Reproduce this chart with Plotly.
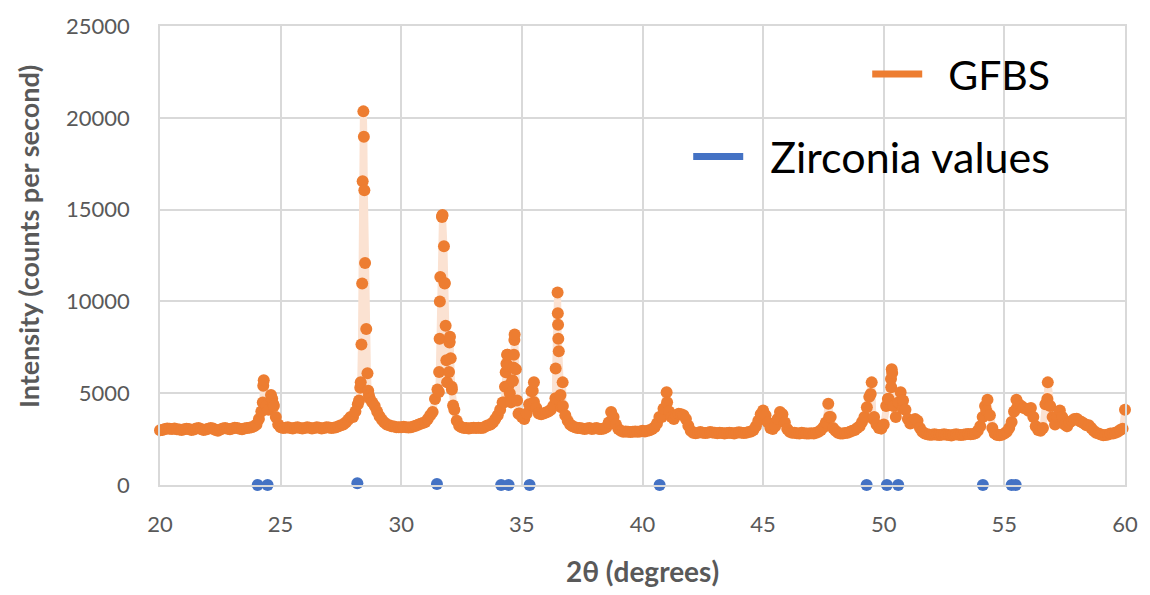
import numpy as np
import plotly.graph_objects as go

# ---- GFBS scan: readings on a 0.1 deg grid (20.0 .. 60.0) ----
scan_start, scan_step = 20.0, 0.1
gfbs_20_25 = [2980, 3000, 3050, 3080, 3060, 3050, 3080, 3040, 3020, 3000,
              3030, 3060, 3050, 3000, 3020, 3080, 3100, 3050, 3000, 3020,
              3060, 3100, 3080, 3000, 2960, 3020, 3080, 3100, 3060, 3040,
              3080, 3120, 3100, 3060, 3040, 3080, 3100, 3120, 3150, 3200,
              3300, 3600, 4000, 5700, 4300, 4100, 4900, 4400, 3700, 3300]
gfbs_25_30 = [3150, 3100, 3120, 3150, 3100, 3080, 3120, 3150, 3100, 3080,
              3100, 3150, 3120, 3080, 3100, 3150, 3120, 3080, 3100, 3150,
              3130, 3100, 3120, 3150, 3200, 3250, 3300, 3400, 3550, 3700,
              3700, 4000, 4400, 5300, 16540, 12090, 6090, 4700, 4500, 4300,
              4000, 3750, 3550, 3400, 3300, 3250, 3200, 3180, 3150, 3150]
gfbs_30_35 = [3150, 3170, 3150, 3130, 3150, 3180, 3230, 3280, 3330, 3380,
              3430, 3600, 3800, 3970, 4690, 5200, 10000, 14650, 11000, 5600,
              7800, 5200, 4100, 3500, 3230, 3150, 3100, 3100, 3080, 3100,
              3120, 3100, 3120, 3100, 3120, 3200, 3250, 3300, 3400, 3600,
              3800, 4100, 4500, 5350, 7100, 5000, 5700, 8200, 4600, 3900]
gfbs_35_40 = [3700, 3600, 3900, 4400, 5100, 5600, 4200, 3900, 3850, 3900,
              3950, 4000, 4100, 4300, 6340, 8730, 4900, 4300, 3800, 3500,
              3300, 3200, 3150, 3100, 3100, 3080, 3050, 3080, 3100, 3050,
              3080, 3100, 3050, 3050, 3080, 3150, 3400, 3970, 3700, 3300,
              3050, 2950, 2900, 2920, 2900, 2880, 2900, 2920, 2900, 2920]
gfbs_40_45 = [2950, 2920, 2950, 2980, 3050, 3150, 3350, 3700, 3700, 4150,
              5050, 4000, 3700, 3600, 3800, 3880, 3850, 3800, 3600, 3230,
              2950, 2850, 2820, 2850, 2880, 2850, 2830, 2850, 2880, 2860,
              2840, 2820, 2850, 2830, 2810, 2830, 2850, 2830, 2810, 2850,
              2870, 2850, 2830, 2850, 2880, 2920, 3000, 3200, 3500, 3850]
gfbs_45_50 = [4060, 3800, 3400, 3100, 3050, 3200, 3600, 3970, 3850, 3400,
              3050, 2900, 2850, 2850, 2820, 2800, 2850, 2820, 2800, 2800,
              2820, 2800, 2850, 2900, 3000, 3150, 3400, 4420, 3700, 3100,
              2950, 2850, 2800, 2800, 2830, 2850, 2900, 2950, 3000, 3100,
              3200, 3430, 3700, 4240, 4800, 5590, 3700, 3300, 3100, 3070]
gfbs_50_55 = [3300, 4300, 4700, 5770, 4300, 3700, 4500, 5050, 4600, 4100,
              3600, 3350, 3400, 3600, 3500, 3100, 2900, 2800, 2760, 2740,
              2740, 2760, 2740, 2720, 2740, 2760, 2740, 2720, 2700, 2740,
              2760, 2740, 2720, 2740, 2760, 2780, 2760, 2780, 2820, 2950,
              3200, 3700, 4300, 4650, 3800, 3100, 2800, 2720, 2710, 2740]
gfbs_55_60 = [2800, 2900, 3100, 3430, 4000, 4650, 4400, 4300, 4200, 4150,
              4050, 4200, 3700, 3200, 3000, 2950, 3100, 4400, 5590, 4300,
              3700, 3300, 3700, 4060, 3700, 3300, 3200, 3400, 3500, 3600,
              3610, 3500, 3430, 3350, 3250, 3250, 3100, 2950, 2850, 2800,
              2750, 2710, 2720, 2750, 2800, 2800, 2850, 2900, 3000, 3070,
              4100]

# ---- extra readings inside sharp peaks ----
peak_two_theta = [24.26, 24.28, 24.65, 24.72,
                  28.25, 28.32, 28.35, 28.38, 28.43, 28.45, 28.47, 28.55, 28.63, 28.66,
                  31.56, 31.57, 31.59, 31.62, 31.69, 31.71, 31.77, 31.80, 31.84, 31.87,
                  31.98, 32.00, 32.02, 32.05, 32.09, 32.15,
                  34.27, 34.33, 34.36, 34.39, 34.41, 34.44, 34.55, 34.63, 34.65, 34.67,
                  34.69, 34.75, 34.86,
                  35.45, 35.5,
                  36.39, 36.48, 36.49, 36.51, 36.53, 36.63, 36.69,
                  41.02, 40.87,
                  47.74,
                  49.46, 49.55,
                  50.17, 50.31, 50.33, 50.35, 50.79,
                  54.25, 55.52, 56.78]
peak_intensity = [4500, 5400, 4700, 4300,
                  4600, 5600, 7650, 10980, 20350, 18970, 16060, 8500, 5135, 4870,
                  5060, 6160, 7960, 11330, 14600, 14700, 13000, 10975, 8675, 6800,
                  6160, 7760, 8080, 6900, 5350, 4330,
                  4500, 6140, 6600, 7100, 6480, 5400, 4500, 5670, 6400, 7100,
                  7900, 6300, 3880,
                  5140, 4520,
                  4725, 10490, 9360, 7970, 7290, 4240, 5590,
                  4510, 4150,
                  3700,
                  4960, 3610,
                  4690, 5320, 6300, 6100, 4150,
                  4060, 4200, 4690]

# ---- Zirconia reference positions ----
zirconia_two_theta = [24.05, 24.46, 28.18, 31.48, 34.14, 34.45, 35.32, 40.71,
                      49.29, 50.13, 50.60, 54.11, 55.30, 55.47]
zirconia_intensity = [0, 0, 100, 60, 0, 0, 0, 0, 0, 0, 0, 0, 0, 0]

x_ticks = [20, 25, 30, 35, 40, 45, 50, 55, 60]
y_ticks = [0, 5000, 10000, 15000, 20000, 25000]

# ---- assemble ----
grid_vals = (gfbs_20_25 + gfbs_25_30 + gfbs_30_35 + gfbs_35_40 +
             gfbs_40_45 + gfbs_45_50 + gfbs_50_55 + gfbs_55_60)
grid_x = np.round(scan_start + scan_step * np.arange(len(grid_vals)), 2)
all_x = np.concatenate([grid_x, np.array(peak_two_theta)])
all_y = np.concatenate([np.array(grid_vals, float), np.array(peak_intensity, float)])
order = np.argsort(all_x, kind="stable")
all_x, all_y = all_x[order], all_y[order]

ORANGE = "#ED7D31"
BLUE = "#4472C4"
FONT = "Lato"
GRAY = "#595959"
NB = "\u00a0"

fig = go.Figure()
fig.add_trace(go.Scatter(
    x=all_x, y=all_y, mode="lines+markers",
    line=dict(color="#FBE2D2", width=7),
    marker=dict(color=ORANGE, size=12),
    showlegend=False, cliponaxis=False))
fig.add_trace(go.Scatter(
    x=zirconia_two_theta, y=zirconia_intensity, mode="markers",
    marker=dict(color=BLUE, size=12),
    showlegend=False, cliponaxis=False))
# legend entries
fig.add_trace(go.Scatter(x=[None], y=[None], mode="lines", name=NB * 2 + "GFBS",
                         line=dict(color=ORANGE, width=7), legend="legend"))
fig.add_trace(go.Scatter(x=[None], y=[None], mode="lines", name=NB * 2 + "Zirconia values",
                         line=dict(color=BLUE, width=7), legend="legend2"))

grid_col = "#D9D9D9"
tick_font = dict(family=FONT, size=22, color=GRAY)
fig.update_layout(
    width=1150, height=595, autosize=False,
    margin=dict(l=160, r=22, t=23, b=108),
    paper_bgcolor="white", plot_bgcolor="white",
    font=dict(family=FONT),
    xaxis=dict(range=[20, 60], tickvals=x_ticks, ticktext=[str(v) for v in x_ticks],
               showgrid=True, gridcolor=grid_col, gridwidth=1.5,
               showline=True, linecolor=grid_col, linewidth=1.5, mirror=True,
               zeroline=False, ticks="", tickfont=tick_font, ticklabelstandoff=19,
               title=dict(text="<b>2θ (degrees)</b>", font=dict(family=FONT, size=28, color=GRAY),
                          standoff=26)),
    yaxis=dict(range=[0, 25000], tickvals=y_ticks, ticktext=[str(v) for v in y_ticks],
               showgrid=True, gridcolor=grid_col, gridwidth=1.5,
               showline=True, linecolor=grid_col, linewidth=1.5, mirror=True,
               zeroline=False, ticks="", tickfont=tick_font, ticklabelstandoff=24),
    annotations=[dict(text="<b>Intensity (counts per second)</b>", textangle=-90,
                      xref="paper", yref="paper", x=(28 - 160) / 968, y=(487 - 236) / 464,
                      xanchor="center", yanchor="middle", showarrow=False,
                      font=dict(family=FONT, size=27, color=GRAY))],
    legend=dict(x=(1058 - 160) / 968, y=(487 - 72) / 464, xanchor="right", yanchor="middle",
                bgcolor="rgba(0,0,0,0)", font=dict(family=FONT, size=41, color="black"),
                itemwidth=50),
    legend2=dict(x=(1058 - 160) / 968, y=(487 - 155) / 464, xanchor="right", yanchor="middle",
                 bgcolor="rgba(0,0,0,0)", font=dict(family=FONT, size=43, color="black"),
                 itemwidth=50),
)

fig.write_html("out.html")
